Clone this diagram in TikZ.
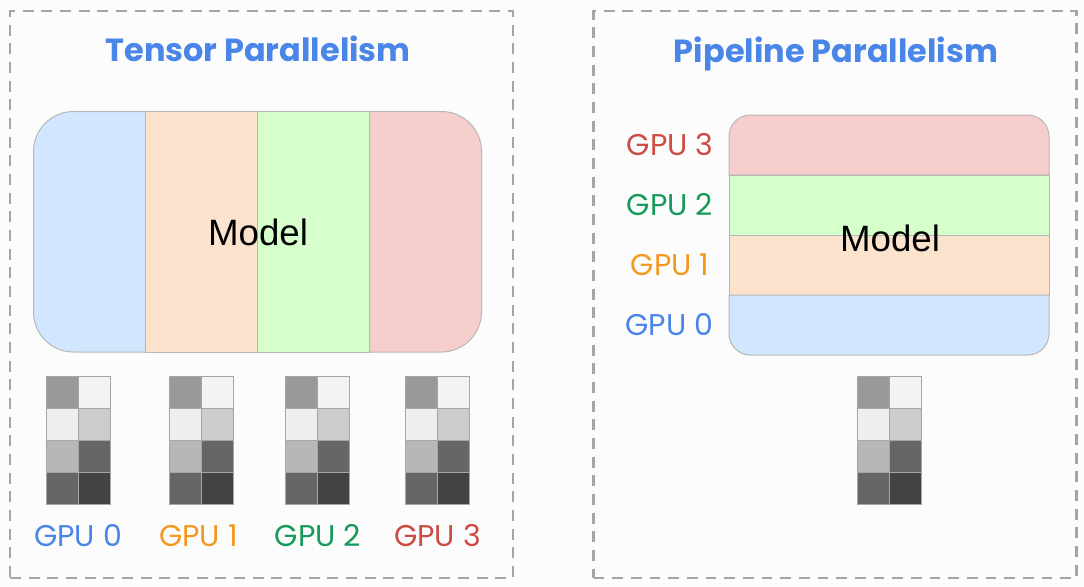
\documentclass[tikz,border=0pt]{standalone}
\usepackage{fontspec}
\setmainfont{Liberation Sans}
\newfontfamily\titlefont{Poppins}
\usepackage{xcolor}
\usetikzlibrary{positioning}
\definecolor{gblue}{HTML}{4A86E8}
\definecolor{gorange}{HTML}{F4991E}
\definecolor{ggreen}{HTML}{169A5A}
\definecolor{gred}{HTML}{CC4B42}
\definecolor{partblue}{HTML}{D2E6FF}
\definecolor{partorange}{HTML}{FBE3CD}
\definecolor{partgreen}{HTML}{D7FFCC}
\definecolor{partred}{HTML}{F6CFCC}
\definecolor{edgegray}{HTML}{B7B7B7}
\tikzset{
    framebox/.style = {draw=edgegray!90!black, line width=2pt, dash pattern=on 8.2pt off 5.8pt},
    partnode/.style = {draw=edgegray, line width=0.75pt},
    titlenode/.style = {draw=none, fill=none, inner sep=0em, text=gblue, font=\titlefont\bfseries\fontsize{24}{28}\selectfont},
    gpunode/.style = {draw=none, fill=none, inner sep=0em, font=\titlefont\fontsize{22.5}{27}\selectfont},
    modelnode/.style = {draw=none, fill=none, inner sep=0em, font=\fontsize{27.5}{32}\selectfont},
    cellnode/.style = {draw=black!35, line width=0.7pt, rectangle, inner sep=0em, minimum size=24pt}
}
% one stack of memory cells, first argument is the prefix, the others the top left corner
\newcommand{\chipstack}[3]{
    \foreach \row/\colleft/\colright in {0/999999/F3F3F3, 1/EFEFEF/CCCCCC, 2/B7B7B7/666666, 3/666666/434343} {
        \definecolor{cellleft}{HTML}{\colleft}
        \definecolor{cellright}{HTML}{\colright}
        \node [name=#1L\row, cellnode, fill=cellleft] at (#2+16, #3+16+32*\row) {};
        \node [name=#1R\row, cellnode, fill=cellright] at (#2+48, #3+16+32*\row) {};
    }
}
\begin{document}
\begin{tikzpicture}[x=0.75pt, y=-0.75pt]
    \useasboundingbox (0,0) rectangle (1084,586);
    \fill [white!99!black] (0,0) rectangle (1084,586);

    \node [name=tensorframe, framebox, rectangle, inner sep=0em, minimum width=377.25pt, minimum height=425.25pt] at (261.5,294.5) {};
    \node [name=pipeframe, framebox, rectangle, inner sep=0em, minimum width=362.25pt, minimum height=425.25pt] at (835,294.5) {};

    \node [name=tensortitle, titlenode] at (258,49) {Tensor Parallelism};
    \node [name=pipetitle, titlenode] at (836,54) {Pipeline Parallelism};

    % tensor model, cut in columns
    \draw [partnode, fill=partblue] (145.5,111.5) [rounded corners=30pt] -- (33.5,111.5) -- (33.5,352) [sharp corners] -- (145.5,352) -- cycle;
    \draw [partnode, fill=partorange] (145.5,111.5) rectangle (257.5,352);
    \draw [partnode, fill=partgreen] (257.5,111.5) rectangle (369.5,352);
    \draw [partnode, fill=partred] (369.5,111.5) [rounded corners=30pt] -- (481.5,111.5) -- (481.5,352) [sharp corners] -- (369.5,352) -- cycle;
    \node [name=tensormodel, modelnode] at (258,232) {Model};

    % pipeline model, cut in rows
    \draw [partnode, fill=partred] (729,175) [rounded corners=16pt] -- (729,115) -- (1049,115) [sharp corners] -- (1049,175) -- cycle;
    \draw [partnode, fill=partgreen] (729,175) rectangle (1049,235);
    \draw [partnode, fill=partorange] (729,235) rectangle (1049,295);
    \draw [partnode, fill=partblue] (729,295) [rounded corners=16pt] -- (729,355) -- (1049,355) [sharp corners] -- (1049,295) -- cycle;
    \node [name=pipemodel, modelnode] at (890,238) {Model};

    \chipstack{chipA}{46}{376}
    \chipstack{chipB}{169.5}{376}
    \chipstack{chipC}{285.5}{376}
    \chipstack{chipD}{405.5}{376}
    \chipstack{chipE}{857.5}{376}

    \node [name=tensorgpuA, gpunode, text=gblue] at (78,536) {GPU 0};
    \node [name=tensorgpuB, gpunode, text=gorange] at (198.5,536) {GPU 1};
    \node [name=tensorgpuC, gpunode, text=ggreen] at (318,536) {GPU 2};
    \node [name=tensorgpuD, gpunode, text=gred] at (437.5,536) {GPU 3};

    \node [name=pipegpuD, gpunode, text=gred] at (670,145) {GPU 3};
    \node [name=pipegpuC, gpunode, text=ggreen] at (670,205) {GPU 2};
    \node [name=pipegpuB, gpunode, text=gorange] at (670,265) {GPU 1};
    \node [name=pipegpuA, gpunode, text=gblue] at (669.5,325) {GPU 0};
\end{tikzpicture}
\end{document}
